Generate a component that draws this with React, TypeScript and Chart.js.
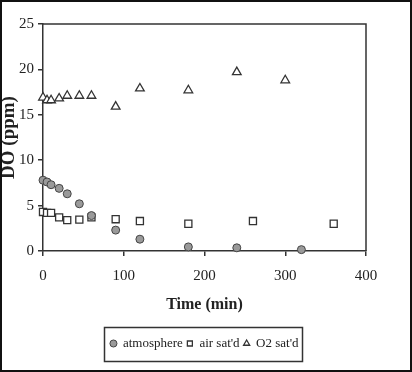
import React, { useEffect, useRef } from "react";
import { Chart, registerables } from "chart.js";

Chart.register(...registerables);

// Data
const atmTime = [0, 5, 10, 20, 30, 45, 60, 90, 120, 180, 240, 320];
const atmDO = [7.8, 7.6, 7.3, 6.9, 6.3, 5.2, 3.9, 2.3, 1.3, 0.45, 0.35, 0.15];
const airTime = [0, 5, 10, 20, 30, 45, 60, 90, 120, 180, 260, 360];
const airDO = [4.3, 4.2, 4.2, 3.7, 3.4, 3.45, 3.7, 3.5, 3.3, 3.0, 3.3, 3.0];
const o2Time = [0, 5, 10, 20, 30, 45, 60, 90, 120, 180, 240, 300];
const o2DO = [16.9, 16.6, 16.6, 16.8, 17.1, 17.1, 17.1, 15.9, 17.9, 17.7, 19.7, 18.8];
const seriesNames = ["atmosphere", "air sat'd", "O2 sat'd"];
const xTitle = "Time (min)";
const yTitle = "DO (ppm)";
const xMin = 0, xMax = 400, xStep = 100;
const yMin = 0, yMax = 25, yStep = 5;

const FONT = '"Liberation Serif", "Times New Roman", serif';
const INK = "#222";
const AXIS = "#333";

const toPoints = (xs: number[], ys: number[]) => xs.map((x, i) => ({ x, y: ys[i] }));

const framePlugin = {
  id: "frame",
  afterLayout(chart: any) {
    // centre the legend under the plot area instead of the padded layout box
    const lg = chart.legend;
    const a = chart.chartArea;
    if (!lg || !a) return;
    const shift = (a.left + a.right) / 2 - (lg.left + lg.right) / 2;
    lg.left += shift;
    lg.right += shift;
    if (lg.legendHitBoxes) for (const h of lg.legendHitBoxes) h.left += shift;
  },
  afterDraw(chart: any) {
    const { ctx, chartArea: a, width, height } = chart;
    ctx.save();
    ctx.strokeStyle = AXIS;
    ctx.lineWidth = 1.5;
    ctx.beginPath();
    ctx.moveTo(a.left, a.top);
    ctx.lineTo(a.right, a.top);
    ctx.lineTo(a.right, a.bottom);
    ctx.stroke();

    const boxes = chart.legend && chart.legend.legendHitBoxes;
    if (boxes && boxes.length) {
      let l = Infinity, r = -Infinity, t = Infinity, b = -Infinity;
      for (const h of boxes) {
        l = Math.min(l, h.left);
        r = Math.max(r, h.left + h.width);
        t = Math.min(t, h.top);
        b = Math.max(b, h.top + h.height);
      }
      ctx.lineWidth = 1.5;
      ctx.strokeStyle = AXIS;
      ctx.strokeRect(Math.round(l - 6) + 0.5, Math.round(t - 10) + 0.5, Math.round(r - l + 10), Math.round(b - t + 21));
    }

    ctx.strokeStyle = "#111";
    ctx.lineWidth = 2;
    ctx.strokeRect(1, 1, width - 2, height - 2);
    ctx.restore();
  },
};

export default function App() {
  const ref = useRef<HTMLCanvasElement | null>(null);

  useEffect(() => {
    if (!ref.current) return;
    const chart = new Chart(ref.current, {
      type: "scatter",
      data: {
        datasets: [
          {
            label: seriesNames[0],
            data: toPoints(atmTime, atmDO),
            pointStyle: "circle",
            radius: 4,
            backgroundColor: "#9a9a9a",
            borderColor: "#444",
            borderWidth: 1,
            clip: false,
          },
          {
            label: seriesNames[1],
            data: toPoints(airTime, airDO),
            pointStyle: "rect",
            radius: 5,
            backgroundColor: "#ffffff",
            borderColor: "#333",
            borderWidth: 1.3,
            clip: false,
          },
          {
            label: seriesNames[2],
            data: toPoints(o2Time, o2DO),
            pointStyle: "triangle",
            radius: 5,
            backgroundColor: "#ffffff",
            borderColor: "#333",
            borderWidth: 1.3,
            clip: false,
          },
        ] as any,
      },
      options: {
        animation: false,
        responsive: false,
        layout: { padding: { top: 24, right: 46, left: 0, bottom: 12 } },
        plugins: {
          tooltip: { enabled: false },
          legend: {
            position: "bottom",
            labels: {
              usePointStyle: true,
              boxWidth: 6,
              boxHeight: 5,
              padding: 4,
              color: INK,
              font: { family: FONT, size: 13 },
            },
          },
        },
        scales: {
          x: {
            type: "linear",
            min: xMin,
            max: xMax,
            ticks: { stepSize: xStep, color: INK, padding: 11, font: { family: FONT, size: 15 } },
            grid: { drawOnChartArea: false, drawTicks: true, tickLength: 5, color: AXIS, lineWidth: 1.5 },
            border: { color: AXIS, width: 1.5 },
            title: {
              display: true,
              text: xTitle,
              color: INK,
              font: { family: FONT, size: 16, weight: "bold" },
              padding: { top: 0, bottom: 19 },
            },
            afterFit: (s: any) => {
              s.height = 82;
            },
          },
          y: {
            type: "linear",
            min: yMin,
            max: yMax,
            ticks: { stepSize: yStep, color: INK, padding: 4, font: { family: FONT, size: 15 } },
            grid: { drawOnChartArea: false, drawTicks: true, tickLength: 5, color: AXIS, lineWidth: 1.5 },
            border: { color: AXIS, width: 1.5 },
            title: {
              display: true,
              text: yTitle,
              color: INK,
              font: { family: FONT, size: 19, weight: "bold", lineHeight: 1 },
              padding: 0,
            },
            afterFit: (s: any) => {
              s.width = 43;
            },
          },
        },
      } as any,
      plugins: [framePlugin],
    });
    return () => chart.destroy();
  }, []);

  return (
    <div style={{ position: "fixed", left: 0, top: 0, width: 412, height: 372, background: "#fff" }}>
      <canvas ref={ref} width={412} height={372} style={{ display: "block", width: 412, height: 372 }} />
    </div>
  );
}
